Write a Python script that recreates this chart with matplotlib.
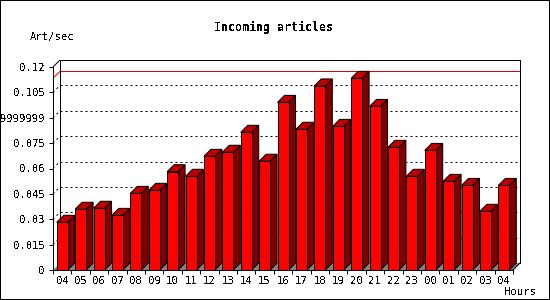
import matplotlib
matplotlib.use('Agg')
import matplotlib.pyplot as plt
from matplotlib.patches import Polygon, Rectangle

plt.rcParams['font.family'] = 'DejaVu Sans Mono'
plt.rcParams['text.antialiased'] = False

hours = ['04', '05', '06', '07', '08', '09', '10', '11', '12', '13', '14', '15', '16',
         '17', '18', '19', '20', '21', '22', '23', '00', '01', '02', '03', '04']
articles = [0.0282, 0.0359, 0.0365, 0.0323, 0.0453, 0.0471, 0.0581, 0.0554, 0.0672,
            0.0696, 0.0814, 0.0643, 0.0991, 0.0832, 0.1088, 0.0849, 0.1133, 0.0967,
            0.0725, 0.0554, 0.0707, 0.0524, 0.0500, 0.0347, 0.0500]
y_ticks = [0, 0.015, 0.03, 0.045, 0.06, 0.075, 0.09, 0.105, 0.12]
y_labels = ['0', '0.015', '0.03', '0.045', '0.06', '0.075', '0.0899999999', '0.105', '0.12']

W, H = 550, 300
LEFT, RIGHT, TOP, BOTTOM = 53, 513, 67, 270
DEPTH = 7
px = 1 * 72 / 100  # one pixel line
font_size = 7.7

fig = plt.figure(figsize=(W / 100, H / 100), dpi=100)
ax = fig.add_axes([LEFT / W, (H - BOTTOM) / H, (RIGHT - LEFT) / W, (BOTTOM - TOP) / H])
ax.set_xlim(0, len(hours))
ax.set_ylim(0, 0.12)
ax.patch.set_visible(False)

# depth of the fake 3d box, in data units
dx = DEPTH / ((RIGHT - LEFT) / len(hours))
dy = DEPTH / ((BOTTOM - TOP) / 0.12)
n = len(hours)


def line(xs, ys, z=2, lw=px, **kw):
    kw.setdefault('color', 'black')
    ax.plot(xs, ys, lw=lw, clip_on=False, zorder=z, solid_capstyle='butt', **kw)


# grid on the back wall and on the left side
for v in y_ticks[1:-1]:
    line([dx, n + dx], [v + dy, v + dy], ls=(0, (2, 3)), dash_capstyle='butt')
    line([0, dx], [v, v + dy], ls=(0, (2, 3)), dash_capstyle='butt')

# max line
top = max(articles)
line([dx, n + dx], [top + dy, top + dy], color='#e80000', z=2.5)
line([0, dx], [top, top + dy], color='#e80000', z=2.5)

# floor
ax.add_patch(Polygon([(0, 0), (n, 0), (n + dx, dy), (dx, dy)], closed=True, fc='#808080',
                     ec='none', clip_on=False, zorder=3))

# back frame
line([dx, dx, n + dx, n + dx, dx], [dy, 0.12 + dy, 0.12 + dy, dy, dy], z=2.8)
line([0, dx], [0.12, 0.12 + dy], z=2.8)
line([n, n + dx], [0, dy], z=3.5)

# bars
bar_off = 3.7 / ((RIGHT - LEFT) / n)
bar_w = 11 / ((RIGHT - LEFT) / n)
for i, v in enumerate(articles):
    a = i + bar_off
    b = a + bar_w
    side = [(b, 0), (b + dx, dy), (b + dx, v + dy), (b, v)]
    cap = [(a, v), (b, v), (b + dx, v + dy), (a + dx, v + dy)]
    front = [(a, 0), (b, 0), (b, v), (a, v)]
    for pts, c in ((side, '#800000'), (cap, '#c00000'), (front, '#ff0000')):
        ax.add_patch(Polygon(pts, closed=True, fc=c, ec='black', lw=px, clip_on=False,
                             zorder=4, joinstyle='miter'))

for s in ('top', 'right'):
    ax.spines[s].set_visible(False)
for s in ('left', 'bottom'):
    ax.spines[s].set_linewidth(px)
    ax.spines[s].set_zorder(5)

ax.set_yticks(y_ticks)
ax.set_yticklabels(y_labels)
ax.tick_params(axis='y', length=3, width=px, pad=3, labelsize=font_size)
ax.set_xticks(range(n + 1))
ax.set_xticklabels([])
ax.tick_params(axis='x', which='major', length=3, width=px)
ax.set_xticks([i + 0.5 for i in range(n)], minor=True)
ax.set_xticklabels(hours, minor=True)
ax.tick_params(axis='x', which='minor', length=0, pad=4.5, labelsize=font_size)

fig.text(274 / W, 1 - 27 / H, 'Incoming articles', ha='center', va='center',
         fontsize=8.4, fontweight='bold')
fig.text(30 / W, 1 - 37 / H, 'Art/sec', ha='left', va='center', fontsize=font_size)
fig.text(504 / W, 1 - 292 / H, 'Hours', ha='left', va='center', fontsize=font_size)

# image border
fig.add_artist(Rectangle((0, 0), 1, 1, transform=fig.transFigure, fill=False, ec='black',
                         lw=2 * px))

fig.savefig('out.png', dpi=100)
